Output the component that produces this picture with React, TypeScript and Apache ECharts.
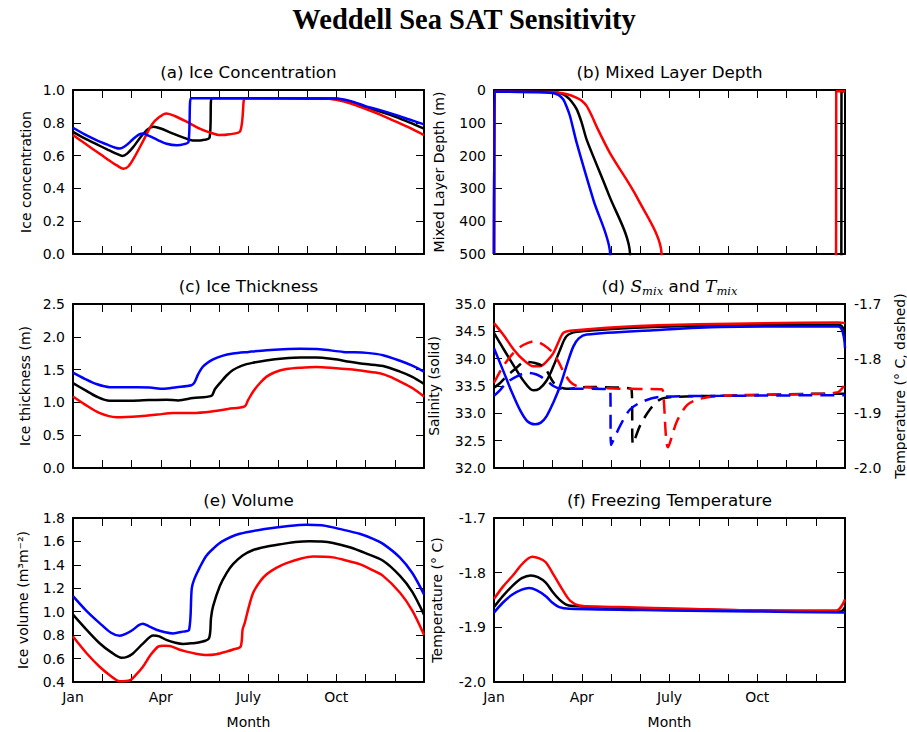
import React, { useEffect, useRef } from 'react';
import * as echarts from 'echarts';

type P = [number, number][];

// x axis: month index 0..12 (Jan 1 .. Dec 31)
const monthTickLabels = ['Jan', '', '', 'Apr', '', '', 'July', '', '', 'Oct', '', '', ''];

// (a) Ice concentration
const iceConcBlack: P = [[0,0.745],[0.4,0.705],[0.8,0.67],[1.2,0.635],[1.5,0.61],[1.69,0.598],[1.85,0.612],[2.05,0.65],[2.3,0.71],[2.55,0.76],[2.76,0.776],[3.0,0.765],[3.4,0.735],[3.8,0.708],[4.1,0.692],[4.4,0.694],[4.67,0.71],[4.74,0.95],[4.9,0.95],[9.0,0.947],[9.5,0.928],[10.0,0.897],[10.5,0.868],[11.0,0.838],[11.5,0.803],[12,0.765]];
const iceConcRed: P = [[0,0.725],[0.4,0.675],[0.8,0.625],[1.2,0.575],[1.5,0.54],[1.73,0.52],[1.9,0.535],[2.1,0.59],[2.4,0.69],[2.7,0.79],[2.95,0.835],[3.19,0.857],[3.5,0.84],[3.9,0.805],[4.33,0.765],[4.7,0.74],[5.02,0.725],[5.35,0.73],[5.72,0.75],[5.87,0.95],[6.0,0.95],[8.6,0.95],[9.0,0.94],[9.5,0.918],[10.0,0.885],[10.5,0.85],[11.0,0.81],[11.5,0.77],[12,0.725]];
const iceConcBlue: P = [[0,0.77],[0.4,0.73],[0.8,0.695],[1.2,0.665],[1.45,0.648],[1.6,0.643],[1.8,0.66],[2.05,0.7],[2.25,0.728],[2.4,0.735],[2.6,0.72],[2.9,0.695],[3.2,0.672],[3.55,0.663],[3.8,0.67],[3.95,0.684],[4.03,0.95],[4.18,0.95],[9.0,0.948],[9.5,0.932],[10.0,0.902],[10.5,0.877],[11.0,0.85],[11.5,0.82],[12,0.79]];

// (b) Mixed layer depth (m); values beyond 500 fall off the axis and are clipped
const mldBlack: P = [[0,500],[0.02,5],[0.05,5],[2.0,6],[2.3,11],[2.48,20],[2.65,35],[2.83,59],[3.0,100],[3.17,152],[3.91,316],[4.65,500],[4.8,2000],[11.86,2000],[11.88,4],[12,4]];
const mldRed: P = [[0,500],[0.02,5],[0.05,5],[2.0,6],[2.5,13],[2.83,24],[3.0,33],[3.17,49],[3.35,80],[3.5,110],[3.97,193],[4.88,326],[5.73,500],[5.9,2000],[11.68,2000],[11.7,4],[12,4]];
const mldBlue: P = [[0,500],[0.02,5],[0.05,5],[1.5,6],[2.0,9],[2.2,15],[2.37,29],[2.5,55],[2.6,80],[2.83,162],[3.4,336],[3.97,500],[4.1,2000],[12,2000]];

// (c) Ice thickness (m)
const thickBlack: P = [[0,1.293],[0.4,1.19],[0.8,1.09],[1.25,1.026],[2.05,1.026],[2.6,1.035],[3.19,1.041],[3.6,1.03],[4.1,1.066],[4.73,1.1],[4.85,1.2],[5.02,1.293],[5.25,1.41],[5.47,1.494],[5.8,1.565],[6.16,1.605],[6.6,1.64],[7.18,1.67],[7.8,1.685],[8.32,1.685],[8.9,1.66],[9.46,1.62],[10.0,1.585],[10.6,1.554],[11.18,1.469],[11.6,1.39],[12,1.283]];
const thickRed: P = [[0,1.09],[0.4,0.97],[0.9,0.84],[1.48,0.775],[2.28,0.79],[2.9,0.815],[3.42,0.84],[4.1,0.84],[4.79,0.865],[5.3,0.9],[5.87,0.94],[5.98,1.03],[6.16,1.167],[6.4,1.3],[6.62,1.393],[6.9,1.46],[7.3,1.509],[7.8,1.53],[8.32,1.539],[8.9,1.525],[9.46,1.504],[10.0,1.475],[10.49,1.444],[10.85,1.39],[11.18,1.318],[11.6,1.22],[12,1.09]];
const thickBlue: P = [[0,1.454],[0.4,1.36],[0.8,1.28],[1.25,1.232],[2.05,1.23],[2.62,1.227],[3.08,1.207],[3.54,1.232],[4.05,1.262],[4.15,1.3],[4.28,1.43],[4.45,1.55],[4.79,1.655],[5.1,1.71],[5.47,1.745],[6.0,1.77],[6.62,1.796],[7.2,1.81],[7.76,1.816],[8.44,1.81],[9.24,1.77],[10.04,1.755],[10.6,1.72],[11.18,1.635],[11.6,1.56],[12,1.47]];

// (d) Salinity (solid, left axis)
const salBlack: P = [[0,34.47],[0.3,34.2],[0.7,33.85],[1.0,33.6],[1.34,33.42],[1.55,33.45],[1.8,33.6],[2.03,33.86],[2.25,34.15],[2.48,34.41],[2.83,34.49],[4.3,34.55],[7,34.6],[11.8,34.62],[12,34.5]];
const salRed: P = [[0,34.65],[0.3,34.45],[0.7,34.15],[1.0,33.98],[1.34,33.86],[1.57,33.86],[1.8,33.95],[2.03,34.1],[2.2,34.3],[2.37,34.47],[2.6,34.51],[4.3,34.58],[7,34.63],[11.8,34.66],[12,34.65]];
const salBlue: P = [[0,34.19],[0.3,33.8],[0.6,33.4],[0.9,33.05],[1.15,32.85],[1.4,32.8],[1.6,32.83],[1.8,32.95],[2.03,33.2],[2.26,33.5],[2.5,33.9],[2.71,34.22],[2.9,34.37],[3.17,34.44],[5.45,34.52],[7.73,34.58],[11.77,34.59],[12,34.19]];
// (d) Mixed-layer temperature (dashed, right axis)
const tmixBlack: P = [[0,-1.853],[0.2,-1.845],[0.43,-1.832],[0.7,-1.82],[1.06,-1.806],[1.4,-1.808],[1.72,-1.816],[2.09,-1.847],[2.5,-1.855],[3.17,-1.852],[4.31,-1.853],[4.7,-1.856],[4.75,-1.956],[4.99,-1.923],[5.33,-1.893],[5.67,-1.875],[6.13,-1.87],[7.73,-1.868],[11.77,-1.864],[12,-1.864]];
const tmixRed: P = [[0,-1.844],[0.3,-1.815],[0.66,-1.79],[1.0,-1.775],[1.4,-1.768],[1.7,-1.775],[2.03,-1.79],[2.2,-1.805],[2.37,-1.823],[2.6,-1.842],[2.83,-1.85],[3.4,-1.853],[4.31,-1.855],[5.72,-1.856],[5.78,-1.86],[5.95,-1.962],[6.25,-1.915],[6.6,-1.885],[7.0,-1.874],[7.73,-1.868],[10.58,-1.865],[11.72,-1.862],[12,-1.847]];
const tmixBlue: P = [[0,-1.868],[0.2,-1.858],[0.43,-1.844],[0.8,-1.832],[1.12,-1.826],[1.4,-1.828],[1.57,-1.832],[1.8,-1.84],[2.03,-1.85],[2.3,-1.855],[2.48,-1.855],[3.97,-1.856],[4.0,-1.958],[4.31,-1.923],[4.65,-1.893],[5.1,-1.878],[5.67,-1.87],[7.73,-1.868],[11.77,-1.867],[12,-1.867]];

// (e) Ice volume (m3 m-2)
const volBlack: P = [[0,0.975],[0.45,0.85],[0.91,0.731],[1.3,0.655],[1.66,0.607],[1.85,0.615],[2.05,0.644],[2.4,0.73],[2.74,0.797],[2.95,0.79],[3.19,0.759],[3.5,0.735],[3.76,0.725],[4.05,0.73],[4.33,0.739],[4.65,0.774],[4.72,0.95],[4.79,1.047],[5.02,1.219],[5.25,1.33],[5.47,1.406],[5.8,1.48],[6.16,1.527],[6.6,1.555],[7.18,1.579],[7.6,1.595],[8.09,1.602],[8.5,1.6],[8.89,1.587],[9.46,1.55],[10.0,1.5],[10.6,1.435],[11.18,1.306],[11.6,1.17],[12,0.975]];
const volRed: P = [[0,0.788],[0.45,0.65],[0.91,0.53],[1.3,0.45],[1.6,0.406],[1.95,0.415],[2.15,0.46],[2.39,0.53],[2.65,0.63],[2.91,0.702],[3.1,0.71],[3.31,0.708],[3.6,0.68],[3.88,0.659],[4.2,0.642],[4.56,0.63],[4.9,0.637],[5.24,0.659],[5.5,0.68],[5.73,0.702],[5.8,0.85],[5.87,0.903],[6.0,1.03],[6.16,1.162],[6.4,1.26],[6.62,1.32],[6.95,1.375],[7.3,1.415],[7.8,1.455],[8.21,1.472],[8.6,1.47],[8.89,1.464],[9.3,1.44],[9.8,1.406],[10.2,1.36],[10.6,1.306],[11.18,1.162],[11.6,1.01],[12,0.803]];
const volBlue: P = [[0,1.133],[0.45,1.01],[0.91,0.903],[1.3,0.82],[1.6,0.794],[1.8,0.81],[2.05,0.846],[2.25,0.885],[2.39,0.897],[2.6,0.875],[2.85,0.846],[3.15,0.825],[3.42,0.815],[3.75,0.83],[3.97,0.846],[4.06,1.2],[4.15,1.28],[4.33,1.377],[4.56,1.478],[4.8,1.54],[5.1,1.6],[5.7,1.665],[6.62,1.708],[7.3,1.73],[7.98,1.743],[8.5,1.738],[8.89,1.72],[9.4,1.69],[9.8,1.665],[10.26,1.622],[10.6,1.579],[11.17,1.464],[11.6,1.33],[12,1.148]];

// (f) Freezing temperature (deg C)
const tfBlack: P = [[0,-1.863],[0.3,-1.843],[0.63,-1.824],[0.95,-1.81],[1.26,-1.805],[1.5,-1.808],[1.77,-1.818],[2.0,-1.835],[2.23,-1.849],[2.45,-1.858],[2.69,-1.861],[4.3,-1.865],[8.86,-1.869],[11.85,-1.871],[12,-1.863]];
const tfRed: P = [[0,-1.848],[0.3,-1.826],[0.63,-1.806],[1.0,-1.782],[1.31,-1.771],[1.55,-1.774],[1.77,-1.781],[2.05,-1.805],[2.34,-1.831],[2.6,-1.851],[2.91,-1.86],[3.5,-1.862],[4.29,-1.863],[6.57,-1.866],[8.86,-1.869],[11.71,-1.869],[12,-1.849]];
const tfBlue: P = [[0,-1.873],[0.3,-1.855],[0.63,-1.84],[0.95,-1.831],[1.2,-1.828],[1.45,-1.832],[1.77,-1.843],[2.0,-1.855],[2.23,-1.863],[2.57,-1.866],[5.9,-1.869],[8.86,-1.871],[12,-1.873]];

const RED = '#ff0000';
const BLACK = '#000000';
const BLUE = '#0000ff';
const SANS = '"DejaVu Sans", sans-serif';

interface Panel {
  left: number; top: number; width: number; height: number;
  ymin: number; ymax: number; yint: number; dec: number;
  inverse?: boolean; xlabels?: boolean;
  title: string; ylabel: string; ylabelX: number;
}

const panels: Panel[] = [
  { left: 73, top: 90, width: 351, height: 164, ymin: 0, ymax: 1, yint: 0.2, dec: 1, title: '(a) Ice Concentration', ylabel: 'Ice concentration', ylabelX: 26 },
  { left: 494, top: 90, width: 351, height: 164, ymin: 0, ymax: 500, yint: 100, dec: 0, inverse: true, title: '(b) Mixed Layer Depth', ylabel: 'Mixed Layer Depth (m)', ylabelX: 439 },
  { left: 73, top: 304, width: 351, height: 164, ymin: 0, ymax: 2.5, yint: 0.5, dec: 1, title: '(c) Ice Thickness', ylabel: 'Ice thickness (m)', ylabelX: 25 },
  { left: 494, top: 304, width: 351, height: 164, ymin: 32, ymax: 35, yint: 0.5, dec: 1, title: '', ylabel: 'Salinity (solid)', ylabelX: 434 },
  { left: 73, top: 518, width: 351, height: 164, ymin: 0.4, ymax: 1.8, yint: 0.2, dec: 1, xlabels: true, title: '(e) Volume', ylabel: 'Ice volume (m³m⁻²)', ylabelX: 23 },
  { left: 494, top: 518, width: 351, height: 164, ymin: -2, ymax: -1.7, yint: 0.1, dec: 1, xlabels: true, title: '(f) Freezing Temperature', ylabel: 'Temperature (° C)', ylabelX: 437 },
];

const seriesByPanel: { data: P; color: string; dashed?: boolean; alt?: boolean }[][] = [
  [{ data: iceConcBlack, color: BLACK }, { data: iceConcRed, color: RED }, { data: iceConcBlue, color: BLUE }],
  [{ data: mldBlack, color: BLACK }, { data: mldRed, color: RED }, { data: mldBlue, color: BLUE }],
  [{ data: thickBlack, color: BLACK }, { data: thickRed, color: RED }, { data: thickBlue, color: BLUE }],
  [
    { data: salBlack, color: BLACK }, { data: salRed, color: RED }, { data: salBlue, color: BLUE },
    { data: tmixBlack, color: BLACK, dashed: true, alt: true }, { data: tmixRed, color: RED, dashed: true, alt: true }, { data: tmixBlue, color: BLUE, dashed: true, alt: true },
  ],
  [{ data: volBlack, color: BLACK }, { data: volRed, color: RED }, { data: volBlue, color: BLUE }],
  [{ data: tfBlack, color: BLACK }, { data: tfRed, color: RED }, { data: tfBlue, color: BLUE }],
];

function buildOption() {
  const grids: any[] = [];
  const xAxes: any[] = [];
  const yAxes: any[] = [];
  const series: any[] = [];
  const graphics: any[] = [];

  const axisLine = { show: true, onZero: false, lineStyle: { color: '#000', width: 2 } };
  const tick = { show: true, inside: true, length: 8, lineStyle: { color: '#000', width: 1 } };
  const labelBase = { color: '#000', fontSize: 14, fontFamily: SANS, margin: 8 };

  panels.forEach((p, i) => {
    grids.push({ left: p.left, top: p.top, width: p.width, height: p.height, containLabel: false });
    const xb = xAxes.length;
    const xBase = { gridIndex: i, type: 'value', min: 0, max: 12, interval: 1, axisLine, axisTick: tick, splitLine: { show: false } };
    xAxes.push({ ...xBase, position: 'bottom', axisLabel: { ...labelBase, show: !!p.xlabels, formatter: (v: number) => monthTickLabels[Math.round(v)] ?? '' } });
    xAxes.push({ ...xBase, position: 'top', axisLabel: { show: false } });
    const yBase = { gridIndex: i, type: 'value', min: p.ymin, max: p.ymax, interval: p.yint, inverse: !!p.inverse, axisLine, axisTick: tick, splitLine: { show: false } };
    const yl = yAxes.length;
    yAxes.push({ ...yBase, position: 'left', axisLabel: { ...labelBase, formatter: (v: number) => v.toFixed(p.dec) } });
    yAxes.push({ ...yBase, position: 'right', axisLabel: { show: false } });
    let yAlt = -1;
    if (i === 3) {
      yAlt = yAxes.length;
      yAxes.push({ gridIndex: i, type: 'value', min: -2.0, max: -1.7, interval: 0.1, position: 'right', axisLine, axisTick: tick, splitLine: { show: false }, axisLabel: { ...labelBase, margin: 9, formatter: (v: number) => v.toFixed(1) } });
    }
    seriesByPanel[i].forEach((s) => {
      series.push({
        type: 'line', data: s.data, xAxisIndex: xb, yAxisIndex: s.alt ? yAlt : yl,
        showSymbol: false, symbol: 'none', clip: true, silent: true, z: 3,
        smooth: 0.3,
        lineStyle: { color: s.color, width: 2.5, type: s.dashed ? [14, 8] : 'solid' },
        itemStyle: { color: s.color },
      });
    });

    const cx = p.left + p.width / 2;
    const cy = p.top + p.height / 2;
    if (p.title) {
      graphics.push({ type: 'text', x: cx, y: p.top - 18, style: { text: p.title, fill: '#000', fontSize: 16.7, fontFamily: SANS, align: 'center', verticalAlign: 'middle' } });
    }
    graphics.push({ type: 'text', x: p.ylabelX, y: cy, rotation: Math.PI / 2, style: { text: p.ylabel, fill: '#000', fontSize: 14, fontFamily: SANS, align: 'center', verticalAlign: 'middle' } });
    if (p.xlabels) {
      graphics.push({ type: 'text', x: cx, y: 722, style: { text: 'Month', fill: '#000', fontSize: 14, fontFamily: SANS, align: 'center', verticalAlign: 'middle' } });
    }
  });

  // (d) title with math-style subscripts
  const pd = panels[3];
  graphics.push({
    type: 'text', x: pd.left + pd.width / 2, y: pd.top - 18,
    style: {
      text: '(d) {s|S}{sub|mix} and {s|T}{sub|mix}',
      fill: '#000', fontSize: 16.7, fontFamily: SANS, align: 'center', verticalAlign: 'middle',
      rich: {
        s: { fontSize: 17, fontFamily: '"DejaVu Serif", serif', fontStyle: 'italic', fill: '#000' },
        sub: { fontSize: 11.5, fontFamily: '"DejaVu Serif", serif', fontStyle: 'italic', fill: '#000', padding: [9, 0, 0, 0] },
      },
    },
  });
  // (d) right axis label
  graphics.push({ type: 'text', x: 900, y: pd.top + pd.height / 2, rotation: Math.PI / 2, style: { text: 'Temperature (° C, dashed)', fill: '#000', fontSize: 14, fontFamily: SANS, align: 'center', verticalAlign: 'middle' } });

  // Main title
  graphics.push({ type: 'text', x: 464, y: 19, style: { text: 'Weddell Sea SAT Sensitivity', fill: '#000', fontSize: 28.5, fontWeight: 'bold', fontFamily: '"Liberation Serif", "Times New Roman", serif', align: 'center', verticalAlign: 'middle' } });

  return {
    animation: false,
    backgroundColor: '#ffffff',
    grid: grids,
    xAxis: xAxes,
    yAxis: yAxes,
    series,
    graphic: graphics,
  };
}

export default function App() {
  const ref = useRef<HTMLDivElement>(null);
  useEffect(() => {
    if (!ref.current) return;
    const chart = echarts.init(ref.current, null, { renderer: 'svg' });
    chart.setOption(buildOption() as any);
    return () => chart.dispose();
  }, []);
  return <div ref={ref} style={{ position: 'fixed', left: 0, top: 0, width: 907, height: 732, background: '#fff' }} />;
}
